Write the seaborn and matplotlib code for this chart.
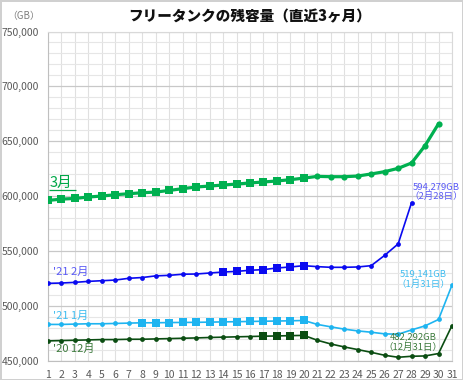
import numpy as np
import pandas as pd
import seaborn as sns
import matplotlib.pyplot as plt
from matplotlib.ticker import FuncFormatter, MultipleLocator

# remaining capacity (GB) per day
mar = [596200, 597400, 598000, 599300, 600200, 601400, 602300, 603200, 603800, 605300,
       606900, 608400, 609300, 610200, 611100, 612100, 613000, 613900, 615100, 616500,
       618100, 617800, 617800, 618400, 620300, 622400, 625400, 630300, 646100, 666000]
feb = [520700, 521000, 521600, 522500, 523100, 523700, 525300, 526000, 527500, 528000,
       529000, 529200, 530100, 531000, 531600, 532600, 533200, 534700, 535600, 536800,
       535900, 535300, 535300, 535600, 536800, 546200, 556600, 594279]
jan = [483300, 483300, 483600, 483900, 483900, 484200, 484500, 484800, 484800, 485000,
       485100, 485200, 485400, 485600, 485800, 486000, 486200, 486400, 486600, 486900,
       483300, 481100, 479000, 477400, 476200, 474700, 474400, 478300, 482000, 487800,
       519141]
dec = [468300, 468600, 468900, 469200, 469500, 469500, 469800, 469800, 470100, 470400,
       470700, 471000, 471400, 471700, 472000, 472300, 472600, 472800, 473100, 473300,
       468900, 465500, 462800, 460400, 457900, 455200, 453400, 454300, 454600, 456800,
       482292]

# days drawn with square markers (first, last)
mar_sq = (1, 20)
feb_sq = (14, 20)
jan_sq = (8, 20)
dec_sq = (17, 20)

series_names = ["3月", "'21 2月", "'21 1月", "'20 12月"]
series_vals = [mar, feb, jan, dec]
series_sq = [mar_sq, feb_sq, jan_sq, dec_sq]
line_colors = ["#00B050", "#0A0AF0", "#1EB4F0", "#0B4D12"]
text_colors = ["#00A848", "#5A5AF5", "#40BDF0", "#3C7A3C"]
line_widths = [2.3, 1.2, 1.2, 1.2]
sq_sizes = [26, 28, 28, 28]
ci_sizes = [20, 12, 12, 12]

rows = []
for name, vals, (s0, s1) in zip(series_names, series_vals, series_sq):
    for d, v in enumerate(vals, start=1):
        rows.append({"series": name, "day": d, "gb": v,
                     "mark": "sq" if s0 <= d <= s1 else "ci"})
df = pd.DataFrame(rows)

sns.set_style("white")
plt.rcParams['font.family'] = ['Noto Sans CJK JP', 'DejaVu Sans']

fig = plt.figure(figsize=(4.63, 3.80), dpi=100)
fig.patch.set_edgecolor("#D0D0D0")
fig.patch.set_linewidth(2)
ax = fig.add_axes([48 / 463, 1 - 361 / 380, (452 - 48) / 463, (361 - 31.5) / 380])

# grid
ax.yaxis.set_major_locator(MultipleLocator(50000))
ax.yaxis.set_minor_locator(MultipleLocator(10000))
ax.xaxis.set_major_locator(MultipleLocator(1))
ax.grid(which="major", axis="y", color="#C8C8C8", lw=0.9)
ax.grid(which="minor", axis="y", color="#E6E6E6", lw=0.8)
ax.grid(which="major", axis="x", color="#E0E0E0", lw=0.8)
ax.set_axisbelow(True)

for i, name in enumerate(series_names):
    sub = df[df.series == name]
    sns.lineplot(data=sub, x="day", y="gb", color=line_colors[i], lw=line_widths[i], ax=ax)
    sq = sub[sub.mark == "sq"]
    ci = sub[sub.mark == "ci"]
    sns.scatterplot(data=sq, x="day", y="gb", color=line_colors[i], marker="s",
                    s=sq_sizes[i], linewidth=0, ax=ax, zorder=3)
    sns.scatterplot(data=ci, x="day", y="gb", color=line_colors[i], marker="o",
                    s=ci_sizes[i], linewidth=0, ax=ax, zorder=3)

ax.set_xlim(1, 31)
ax.set_ylim(450000, 750000)
ax.set_xlabel("")
ax.set_ylabel("")
ax.yaxis.set_major_formatter(FuncFormatter(lambda v, p: f"{int(v):,}"))
ax.tick_params(axis="both", labelsize=7.5, labelcolor="#595959", color="#BFBFBF",
               length=3, width=0.8)
ax.tick_params(axis="y", which="minor", length=0)
for side in ["left", "bottom"]:
    ax.spines[side].set_color("#BFBFBF")
for side in ["top", "right"]:
    ax.spines[side].set_color("#D9D9D9")

# series labels
ax.text(1.12, 612300, "3月", color=text_colors[0], fontsize=10.5, va="center", ha="left")
ax.hlines(605300, 1.1, 3.05, color=text_colors[0], lw=0.9)
ax.text(1.35, 531000, "'21 2月", color=text_colors[1], fontsize=8, va="center", ha="left")
ax.text(1.35, 491000, "'21 1月", color=text_colors[2], fontsize=8, va="center", ha="left")
ax.text(1.35, 461000, "'20 12月", color=text_colors[3], fontsize=8, va="center", ha="left")

# end-of-month annotations
ax.text(29.8, 604300, "594,279GB\n（2月28日）", color=text_colors[1], fontsize=6.8,
        ha="center", va="center", linespacing=1.1)
ax.text(28.9, 524600, "519,141GB\n（1月31日）", color=text_colors[2], fontsize=6.8,
        ha="center", va="center", linespacing=1.1)
ax.text(28.1, 467200, "482,292GB\n（12月31日）", color=text_colors[3], fontsize=6.8,
        ha="center", va="center", linespacing=1.1)

fig.text(250 / 463, 1 - 17 / 380, "フリータンクの残容量（直近3ヶ月）", fontsize=10.5,
         fontweight="heavy", ha="center", va="center", color="#111111")
fig.text(24 / 463, 1 - 16 / 380, "（GB）", fontsize=7, ha="center", va="center",
         color="#7F7F7F")

fig.savefig("out.png", dpi=100, edgecolor=fig.get_edgecolor())
